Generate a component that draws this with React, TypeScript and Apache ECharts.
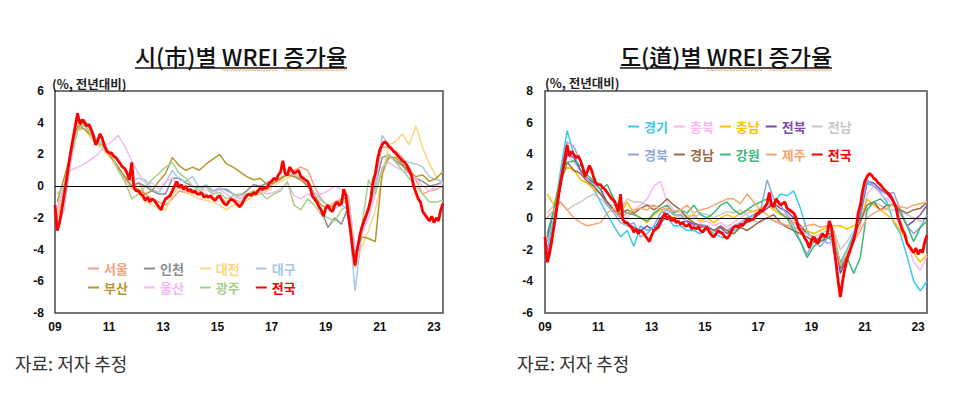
import React, { useEffect, useRef } from "react";
import * as echarts from "echarts";

// x positions are months since Jan 2009 (0 .. 172 = May 2023)
const X_TICK_LABELS = ["09", "11", "13", "15", "17", "19", "21", "23"];
const MONTHS_PER_TICK = 24;
const LAST_MONTH = 172;
// quarterly series sampled in Feb, May, Aug, Nov (month index 1 + 3k)
const Q_FIRST_MONTH = 1;
const Q_STEP = 3;

// 전국 monthly (2009.01 ~ 2023.05)
const NATIONAL = [
  -1.2, -2.8, -2.3, -1.5, -0.6, 0.3, 1.3, 2.2, 3.0, 3.8, 4.6, 3.9,
  4.2, 4.0, 3.8, 3.9, 3.6, 3.2, 2.6, 2.9, 3.3, 3.0, 2.5, 2.2,
  2.1, 2.1, 1.9, 1.8, 1.6, 1.4, 1.2, 1.1, 0.8, 0.4, 1.5, -0.1,
  -0.3, -0.3, -0.5, -0.6, -0.9, -0.7, -1.0, -0.8, -0.9, -1.1, -1.3, -1.5,
  -1.1, -0.8, -0.7, -0.6, -0.3, 0.0, 0.3, -0.1, 0.1, -0.2, 0.0, -0.3,
  -0.2, -0.4, -0.3, -0.5, -0.5, -0.4, -0.7, -0.6, -0.7, -0.6, -0.8, -0.9,
  -0.7, -0.6, -0.9, -1.1, -1.2, -1.0, -0.8, -0.9, -1.0, -1.2, -1.3, -1.1,
  -0.8, -0.6, -0.5, -0.6, -0.4, -0.5, -0.3, -0.1, -0.2, -0.1, -0.1, 0.2,
  0.3, 0.5, 0.4, 0.7, 0.9, 1.6, 0.8, 0.7, 1.2, 1.0, 0.8, 0.9,
  1.0, 0.6, 0.5, 0.4, 0.3, 0.0, -0.6, -0.8, -1.0, -1.3, -1.5, -1.9,
  -1.4, -1.2, -1.5, -1.6, -1.2, -1.0, -1.2, -1.1, -0.2, -0.6, -1.8, -2.8,
  -4.0, -5.0, -4.0, -3.2, -2.6, -2.2, -1.8, -1.4, -0.8, 0.3, 0.8, 1.7,
  2.3, 2.6, 2.8, 2.7, 2.5, 2.4, 2.2, 2.1, 1.9, 1.75, 1.6, 1.5,
  1.3, 1.0, 0.7, 0.0, -0.4, -0.8, -1.0, -1.6, -1.8, -2.0, -2.2, -1.9,
  -2.3, -2.0, -2.2, -1.5, -1.1,
];

// ---- 시(市)별, quarterly (Feb, May, Aug, Nov) ----
const SEOUL = [
  -2.0, -0.5, 2.0, 3.8, 3.8, 3.3, 2.8, 2.4, 1.8, 1.2, 0.5, 0.0,
  0.2, -0.5, -0.8, -1.0, -1.2, -0.8, -0.3, -0.4, -0.4, -0.5, -0.5, -0.8,
  -0.7, -1.0, -0.8, -1.0, -0.7, -0.3, -0.3, -0.2, 0.2, 0.4, 0.8, 1.0,
  1.2, 1.0, 0.0, -0.8, -1.3, -1.0, -0.8, -1.2, -4.8, -2.5, -1.5, 0.5,
  2.5, 2.4, 2.2, 1.8, 1.2, 0.4, -0.5, -0.3, -0.2, 0.0,
];
const INCHEON = [
  -1.5, 0.0, 2.0, 3.5, 4.2, 3.5, 2.8, 2.5, 1.8, 1.2, 0.5, 0.0,
  0.2, 0.0, -0.3, -0.5, -0.5, 0.5, 0.5, 0.2, 0.0, -0.1, 0.0, -0.3,
  -0.2, -0.2, -0.5, -0.6, -0.3, 0.1, 0.0, 0.2, 0.4, 0.5, 0.8, 0.6,
  0.4, 0.0, -0.5, -1.5, -2.6, -2.0, -2.4, -1.3, -4.8, -2.8, -1.5, 0.0,
  1.8, 2.0, 1.6, 1.3, 0.8, 0.5, 0.3, 0.0, 0.1, 0.3,
];
const DAEJEON = [
  -1.8, -0.5, 1.8, 3.5, 3.6, 3.0, 2.6, 2.2, 1.7, 1.0, 0.4, -0.2,
  -0.4, -1.0, -1.2, -1.4, -1.5, -0.6, 0.0, -0.4, -0.6, -0.8, -0.9, -1.0,
  -1.2, -1.5, -1.2, -1.1, -0.9, -0.6, -0.5, -0.3, 0.0, 0.3, 0.5, 0.8,
  0.6, 0.1, -0.4, -0.9, -1.3, -1.2, -0.9, -1.0, -5.2, -3.8, -2.8, -1.5,
  0.5, 2.6, 2.8, 3.3, 2.6, 3.8, 2.4, 1.4, 0.6, 0.1,
];
const DAEGU = [
  -2.8, -1.5, 1.5, 3.5, 3.8, 3.4, 2.9, 2.7, 1.9, 1.1, 0.6, 0.3,
  0.5, 0.4, -0.2, -0.4, 0.2, 1.0, 0.4, 0.3, 0.6, -0.1, 0.1, -0.3,
  -0.1, -0.3, -0.5, -0.8, -0.6, -0.4, -0.2, 0.0, 0.3, 0.5, 0.8, 0.7,
  0.5, 0.1, -0.4, -0.9, -1.2, -1.4, -1.2, -1.5, -6.6, -3.0, -1.5, -0.2,
  3.2, 2.6, 2.0, 1.7, 1.5, 1.4, 1.2, 0.6, 0.4, 0.3,
];
const BUSAN = [
  -1.0, 0.5, 2.0, 3.8, 3.6, 3.2, 2.7, 2.5, 1.8, 1.2, 0.6, 0.0,
  -0.2, -0.5, -0.3, 0.3, 0.8, 1.8, 1.3, 1.0, 1.2, 1.0, 1.4, 1.7,
  2.0, 1.4, 1.2, 0.9, 0.6, 0.4, 0.5, 0.1, 0.2, 0.5, 0.7, 0.6,
  0.4, 0.0, -0.6, -1.2, -1.4, -1.2, -0.9, -0.6, -4.2, -3.2, -3.3, -3.5,
  0.8, 1.8, 1.8, 1.4, 0.9, 0.6, 0.7, 0.3, 0.5, 0.9,
];
const ULSAN = [
  -1.5, 0.0, 1.0, 1.2, 1.4, 1.7, 2.0, 2.5, 2.8, 3.2, 2.5, 1.6,
  0.8, 0.2, 0.2, -0.2, 0.3, 0.5, 0.0, -0.3, -0.2, -0.4, -0.2, -0.5,
  -0.2, -0.5, -0.8, -0.6, -0.6, -0.5, -0.3, -0.5, -0.4, -0.2, 0.2, -0.6,
  -0.8, -0.5, -0.6, -0.5, -0.3, 0.0, -0.2, -0.6, -4.0, -3.0, -2.0, -0.5,
  1.2, 1.5, 1.2, 1.0, 0.8, 0.5, 0.0, -0.3, 0.0, 0.2,
];
const GWANGJU = [
  -0.5, 0.0, 2.0, 3.5, 4.0, 3.2, 2.8, 2.4, 2.0, 1.0, 0.3, -0.8,
  -0.5, 0.0, 0.4, 0.8, 1.2, 1.5, 0.8, 0.5, 0.0, -0.3, 0.0, -0.5,
  -0.4, -0.8, -0.6, -0.5, -0.5, -0.3, -0.4, -0.8, -0.5, -0.3, 0.3, -1.2,
  -1.5, -0.8, -1.2, -1.8, -2.0, -2.2, -1.5, -1.2, -4.5, -2.5, 0.4, -0.5,
  1.0, 2.0, 1.5, 1.0, 0.5, 0.0, -0.5, -1.0, -1.0, -0.9,
];

// ---- 도(道)별, quarterly (Feb, May, Aug, Nov) ----
const GYEONGGI = [
  -2.0, 0.0, 3.0, 5.5, 4.0, 3.0, 2.2, 1.8, 1.0, 0.2, -0.5, -1.2,
  -0.8, -1.8, -0.5, -0.8, -0.6, -0.3, 0.0, -0.5, -0.5, -0.8, -0.8, -1.0,
  -0.7, -1.0, -1.2, -1.3, -0.8, -0.6, -0.2, 0.2, 0.4, 0.8, 1.0, 1.5,
  1.4, 1.7, 0.6, -0.8, -1.5, -1.2, -1.6, -1.5, -2.8, -2.0, -1.0, 0.0,
  2.2, 2.0, 1.6, 1.0, -0.3, -1.0, -2.4, -4.0, -4.6, -4.0,
];
const CHUNGBUK = [
  -1.0, 0.5, 2.5, 4.0, 3.5, 3.0, 2.2, 2.0, 1.5, 1.0, 0.5, 0.0,
  0.0, 0.5, 0.8, 1.2, 2.0, 2.3, 1.0, 0.5, 0.3, 0.0, 0.2, -0.3,
  -0.2, -0.5, -0.3, -0.6, -0.3, 0.0, 0.3, 0.4, 0.6, 0.8, 0.6, 0.3,
  0.2, -0.2, -0.6, -1.0, -1.4, -1.2, -1.5, -1.8, -3.0, -2.5, -1.5, -0.5,
  1.5, 2.0, 1.5, 1.2, 0.8, 0.0, -1.5, -2.8, -3.3, -2.4,
];
const CHUNGNAM = [
  1.5, 0.8, 2.5, 3.2, 3.0, 2.4, 2.2, 1.8, 1.5, 1.0, 0.5, 0.3,
  1.0, 0.3, 0.0, -0.3, 0.2, 0.5, 0.2, 0.0, 0.2, 0.0, 0.2, -0.2,
  0.0, -0.3, 0.0, 0.2, 0.0, 0.3, 0.5, 0.4, 0.6, 0.8, 0.5, 0.2,
  0.0, -0.3, -0.6, -0.8, -1.0, -0.8, -0.6, -0.5, -0.5, -0.7, -0.5, -0.3,
  1.2, 0.8, 0.5, 0.2, -0.2, -0.8, -1.5, -2.2, -2.8, -2.3,
];
const JEONBUK = [
  -2.5, -0.5, 2.0, 4.0, 3.8, 3.0, 2.5, 2.2, 1.8, 1.0, 0.5, 0.0,
  -0.3, -0.6, -0.8, -0.5, -0.8, 0.0, 0.3, -0.2, -0.3, -0.2, -0.4, -0.6,
  -0.5, -0.8, -0.6, -1.0, -0.6, -0.4, -0.3, 0.0, 0.3, 0.6, 0.9, 0.6,
  0.4, 0.0, -0.5, -1.0, -1.2, -1.5, -1.3, -1.0, -3.5, -2.5, -1.2, 0.3,
  2.3, 2.2, 1.8, 1.5, 1.0, 0.4, -0.5, -0.2, 0.2, 0.8,
];
const JEONNAM = [
  0.3, 0.8, 1.0, 0.5, 0.8, 1.0, 1.3, 1.5, 1.2, 0.8, 0.8, 0.5,
  1.2, 1.0, 1.0, 0.8, 0.8, 0.5, 0.6, 0.2, 0.0, 0.2, 0.0, 0.3,
  0.2, 0.0, 0.2, 0.4, 0.3, 0.5, 0.2, -0.2, -0.3, 0.0, -0.2, -0.4,
  -0.5, -0.6, -0.8, -1.0, -1.2, -1.0, -0.8, -0.8, -2.0, -1.5, -0.8, -0.2,
  0.5, 1.0, 0.8, 0.5, 0.5, 0.4, 0.2, 0.0, -0.2, 0.0,
];
const GYEONGBUK = [
  -1.5, 0.5, 2.5, 4.8, 4.5, 3.5, 2.5, 2.0, 1.5, 0.8, 0.3, -0.3,
  -0.5, -0.3, -1.2, -1.0, -0.5, 0.3, 0.5, 0.2, 0.2, -0.3, -0.5, -0.4,
  -0.5, -0.8, -1.0, -0.8, -0.5, -0.3, 0.0, 0.2, 0.4, 2.4, 1.2, 0.8,
  0.2, -0.5, -1.5, -2.3, -1.5, -1.8, -1.3, -1.2, -3.0, -2.4, -1.2, 0.5,
  2.4, 2.0, 1.7, 1.5, 1.6, 0.5, -0.5, -1.0, -0.6, 0.2,
];
const GYEONGNAM = [
  -1.2, 0.5, 2.2, 3.5, 3.0, 2.8, 2.3, 2.0, 1.5, 1.0, 0.5, 0.2,
  0.5, 0.3, 0.6, 0.8, 0.5, 0.8, 1.2, 0.8, 0.5, 0.0, -0.3, -0.5,
  -0.6, -0.8, -0.5, -0.8, -1.0, -0.6, -0.8, -0.5, -0.2, 0.0, 0.2, -0.3,
  -0.6, -0.8, -1.0, -1.2, -1.5, -1.3, -1.0, -1.0, -3.2, -2.5, -1.2, -0.2,
  0.8, 1.0, 0.5, 0.8, 0.8, 0.5, 0.3, 0.5, 0.6, 1.0,
];
const GANGWON = [
  -1.0, 0.5, 2.5, 3.5, 3.6, 3.3, 2.7, 2.3, 1.8, 2.1, 1.2, 0.6,
  0.3, 0.2, 0.0, -0.2, 0.3, 0.6, 0.8, 0.3, 0.5, 0.3, 0.8, 0.2,
  0.0, 0.3, 0.8, 1.0, 0.5, 0.2, 0.5, 0.8, 1.0, 1.2, 0.8, 0.3,
  0.0, -0.8, -1.5, -2.5, -1.8, -1.5, -1.2, -1.5, -2.8, -2.5, -3.5, -2.5,
  0.5, 1.0, 1.2, 0.8, 0.8, 0.3, -0.5, -1.5, -0.6, -0.2,
];
const JEJU = [
  0.0, 0.5, 1.0, 0.5, 0.0, -0.3, -0.5, -0.4, -0.3, 0.3, 0.6, 0.0,
  0.3, 0.5, 0.6, 0.5, 0.8, 0.5, 0.6, 0.4, 0.5, 0.8, 0.3, 0.5,
  0.6, 0.8, 1.0, 1.2, 1.2, 0.9, 1.5, 1.0, 0.5, 0.2, -0.2, -0.3,
  -0.5, -0.3, -0.6, -0.5, -0.4, -0.6, -0.5, -0.8, -3.0, -2.2, -1.5, -0.8,
  0.0, 0.3, 0.5, 0.6, 0.9, 0.7, 0.6, 0.8, 0.9, 1.0,
];

const CITY_SERIES = [
  { name: "서울", data: SEOUL, color: "#F2A27E" },
  { name: "인천", data: INCHEON, color: "#8C8C8C" },
  { name: "대전", data: DAEJEON, color: "#FFD47F" },
  { name: "대구", data: DAEGU, color: "#A7C7E7" },
  { name: "부산", data: BUSAN, color: "#B8962E" },
  { name: "울산", data: ULSAN, color: "#F5B8F2" },
  { name: "광주", data: GWANGJU, color: "#A8D08D" },
];
const PROVINCE_SERIES = [
  { name: "경기", data: GYEONGGI, color: "#3CC8F0" },
  { name: "충북", data: CHUNGBUK, color: "#FFB6EE" },
  { name: "충남", data: CHUNGNAM, color: "#FFC000" },
  { name: "전북", data: JEONBUK, color: "#7B4DAA" },
  { name: "전남", data: JEONNAM, color: "#C8C8C8" },
  { name: "경북", data: GYEONGBUK, color: "#8FA8DC" },
  { name: "경남", data: GYEONGNAM, color: "#9A6B45" },
  { name: "강원", data: GANGWON, color: "#3CB878" },
  { name: "제주", data: JEJU, color: "#F4A870" },
];
const NATIONAL_NAME = "전국";
const NATIONAL_COLOR = "#FF0000";

const TITLE_LEFT = "시(市)별 WREI 증가율";
const TITLE_RIGHT = "도(道)별 WREI 증가율";
const UNIT = "(%, 전년대비)";
const SOURCE = "자료: 저자 추정";

const CJK = '"Noto Sans CJK KR", "Noto Sans", sans-serif';
const NUM = '"Liberation Sans", Arial, sans-serif';
const TITLE_FONT = `500 23px ${CJK}`;

function measure(text: string, font: string) {
  const c = document.createElement("canvas").getContext("2d")!;
  c.font = font;
  return c.measureText(text).width;
}

function titleGraphics(title: string, cx: number) {
  const w = measure(title, TITLE_FONT);
  const x0 = cx - w / 2;
  const parts = title.split(" ");
  const els: any[] = [
    {
      type: "text",
      x: cx,
      y: 56,
      style: { text: title, font: TITLE_FONT, fill: "#111", align: "center", verticalAlign: "middle" },
    },
    { type: "line", shape: { x1: x0, y1: 68, x2: x0 + w, y2: 68 }, style: { stroke: "#111", lineWidth: 1.3 } },
  ];
  // spell-check squiggles under "WREI" and "증가율"
  const p1 = measure(parts[0] + " ", TITLE_FONT);
  const p2 = measure(parts[0] + " " + parts[1], TITLE_FONT);
  const p3 = measure(parts[0] + " " + parts[1] + " ", TITLE_FONT);
  [[p1, p2], [p3, w]].forEach(([a, b]) => {
    const pts: number[][] = [];
    let i = 0;
    for (let x = x0 + a; x <= x0 + b; x += 1.5, i++) pts.push([x, i % 2 ? 69.6 : 70.8]);
    els.push({ type: "polyline", shape: { points: pts }, style: { stroke: "#E39A4C", lineWidth: 0.8, fill: null } });
  });
  return els;
}

function buildLegend(items: { name: string; color: string }[], left: number, top: number, gap: number) {
  return {
    left,
    top,
    orient: "horizontal",
    padding: 0,
    itemGap: gap,
    itemWidth: 11,
    itemHeight: 2,
    icon: "rect",
    selectedMode: false,
    textStyle: { fontSize: 13, fontWeight: "bold", fontFamily: CJK },
    data: items.map((it) => ({ name: it.name, textStyle: { color: it.color } })),
  };
}

export default function App() {
  const ref = useRef<HTMLDivElement>(null);
  useEffect(() => {
    if (!ref.current) return;
    const chart = echarts.init(ref.current, undefined, { renderer: "svg" });

    const quarterly = (arr: number[]) => arr.map((v, k) => [Q_FIRST_MONTH + Q_STEP * k, v]);
    const monthly = (arr: number[]) => arr.map((v, i) => [i, v]);

    const xAxisBase = {
      type: "value",
      min: 0,
      max: LAST_MONTH,
      interval: MONTHS_PER_TICK,
      axisLine: { show: false },
      axisTick: { show: false },
      splitLine: { show: false },
      axisLabel: {
        margin: 8,
        fontSize: 12,
        fontWeight: "bold",
        fontFamily: NUM,
        color: "#111",
        showMaxLabel: false,
        formatter: (v: number) => (v % MONTHS_PER_TICK === 0 ? X_TICK_LABELS[v / MONTHS_PER_TICK] ?? "" : ""),
      },
    };
    const yAxisBase = (min: number, max: number, margin: number) => ({
      type: "value",
      min,
      max,
      interval: 2,
      axisLine: { show: false },
      axisTick: { show: false },
      splitLine: { show: false },
      axisLabel: { margin, fontSize: 12, fontWeight: "bold", fontFamily: NUM, color: "#111" },
    });

    const zeroSeries = (idx: number) => ({
      name: "_zero" + idx,
      type: "line",
      xAxisIndex: idx,
      yAxisIndex: idx,
      data: [],
      z: 1,
      silent: true,
      markLine: {
        silent: true,
        symbol: "none",
        label: { show: false },
        lineStyle: { color: "#000", width: 1.2, type: "solid" },
        data: [{ yAxis: 0 }],
      },
    });

    const lineSeries = (s: { name: string; data: number[]; color: string }, idx: number) => ({
      name: s.name,
      type: "line",
      xAxisIndex: idx,
      yAxisIndex: idx,
      data: quarterly(s.data),
      color: s.color,
      showSymbol: false,
      symbol: "none",
      z: 3,
      lineStyle: { width: 1.5, color: s.color },
    });
    const nationalSeries = (idx: number) => ({
      name: NATIONAL_NAME,
      type: "line",
      xAxisIndex: idx,
      yAxisIndex: idx,
      data: monthly(NATIONAL),
      color: NATIONAL_COLOR,
      showSymbol: false,
      symbol: "none",
      z: 5,
      lineStyle: { width: 2.8, color: NATIONAL_COLOR },
    });

    const natItem = { name: NATIONAL_NAME, color: NATIONAL_COLOR };
    const cityItems = CITY_SERIES.map((s) => ({ name: s.name, color: s.color }));
    const provItems = PROVINCE_SERIES.map((s) => ({ name: s.name, color: s.color }));

    const option: any = {
      animation: false,
      backgroundColor: "#fff",
      grid: [
        { left: 55, top: 91, width: 388, height: 222, show: true, borderColor: "#4a4a4a", borderWidth: 1.5, backgroundColor: "transparent" },
        { left: 545, top: 91, width: 382, height: 222, show: true, borderColor: "#4a4a4a", borderWidth: 1.5, backgroundColor: "transparent" },
      ],
      xAxis: [
        { ...xAxisBase, gridIndex: 0 },
        { ...xAxisBase, gridIndex: 1 },
      ],
      yAxis: [
        { ...yAxisBase(-8, 6, 11), gridIndex: 0 },
        { ...yAxisBase(-6, 8, 12), gridIndex: 1 },
      ],
      legend: [
        buildLegend(cityItems.slice(0, 4), 88, 262, 16),
        buildLegend([...cityItems.slice(4), natItem], 88, 281, 16),
        buildLegend(provItems.slice(0, 5), 628, 120, 6),
        buildLegend([...provItems.slice(5), natItem], 628, 148, 6),
      ],
      graphic: [
        ...titleGraphics(TITLE_LEFT, 241),
        ...titleGraphics(TITLE_RIGHT, 726),
        { type: "text", x: 52, y: 83, style: { text: UNIT, font: `bold 12.5px ${CJK}`, fill: "#222", verticalAlign: "middle" } },
        { type: "text", x: 545, y: 82, style: { text: UNIT, font: `bold 12.5px ${CJK}`, fill: "#222", verticalAlign: "middle" } },
        { type: "text", x: 15, y: 363, style: { text: SOURCE, font: `18px ${CJK}`, fill: "#333", verticalAlign: "middle" } },
        { type: "text", x: 517, y: 363, style: { text: SOURCE, font: `18px ${CJK}`, fill: "#333", verticalAlign: "middle" } },
      ],
      series: [
        zeroSeries(0),
        ...CITY_SERIES.map((s) => lineSeries(s, 0)),
        nationalSeries(0),
        zeroSeries(1),
        ...PROVINCE_SERIES.map((s) => lineSeries(s, 1)),
        nationalSeries(1),
      ],
    };
    chart.setOption(option);
    return () => chart.dispose();
  }, []);

  return (
    <div
      ref={ref}
      style={{ position: "absolute", left: 0, top: 0, width: 965, height: 401, background: "#fff" }}
    />
  );
}
